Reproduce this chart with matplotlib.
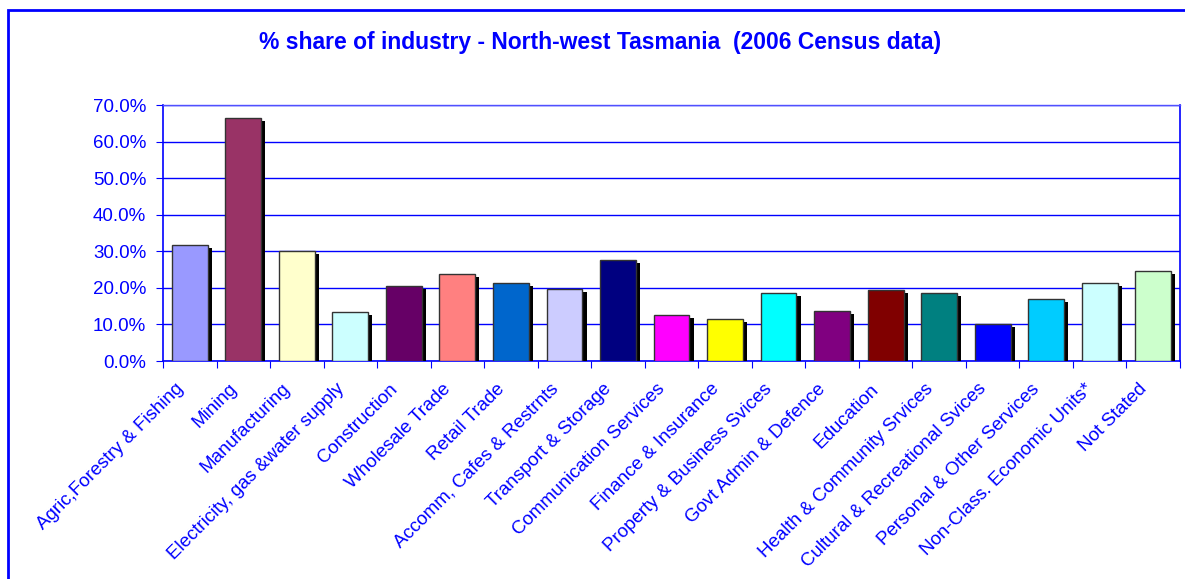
import matplotlib
matplotlib.use("Agg")
import matplotlib.pyplot as plt
import matplotlib.patheffects as pe
import matplotlib.transforms as mtransforms
from matplotlib.patches import Rectangle
from matplotlib.ticker import FuncFormatter, MultipleLocator

industries = [
    "Agric,Forestry & Fishing", "Mining", "Manufacturing",
    "Electricity, gas &water supply", "Construction", "Wholesale Trade",
    "Retail Trade", "Accomm, Cafes & Restrnts", "Transport & Storage",
    "Communication Services", "Finance & Insurance",
    "Property & Business Svices", "Govt Admin & Defence", "Education",
    "Health & Community Srvices", "Cultural & Recreational Svices",
    "Personal & Other Services", "Non-Class. Economic Units*", "Not Stated",
]
share_pct = [31.6, 66.4, 30.0, 13.5, 20.4, 23.7, 21.3, 19.7, 27.6, 12.6,
             11.4, 18.6, 13.8, 19.3, 18.6, 10.2, 16.9, 21.3, 24.5]
bar_colors = ["#9999FF", "#993366", "#FFFFCC", "#CCFFFF", "#660066",
              "#FF8080", "#0066CC", "#CCCCFF", "#000080", "#FF00FF",
              "#FFFF00", "#00FFFF", "#800080", "#800000", "#008080",
              "#0000FF", "#00CCFF", "#CCFFFF", "#CCFFCC"]

BLUE = "#0000FF"
W, H = 1185, 579
plt.rcParams["font.family"] = ["Liberation Sans", "DejaVu Sans"]

fig = plt.figure(figsize=(W / 100, H / 100), dpi=100)
ax = fig.add_axes([163 / W, 1 - 361 / H, (1180 - 163) / W, (361 - 105) / H])

# outer chart frame (right and bottom edges run off the image)
fig.patches.append(Rectangle((8 / W, -0.05), 1.1, 1.05 - 10 / H,
                             transform=fig.transFigure, fill=False,
                             edgecolor=BLUE, linewidth=2))

x = range(len(industries))
ax.bar(x, share_pct, width=0.67, color=bar_colors, edgecolor="#333333",
       linewidth=1.0, zorder=3,
       path_effects=[pe.SimplePatchShadow(offset=(3, -2.2), shadow_rgbFace="black",
                                          alpha=1.0), pe.Normal()])

ax.set_xlim(-0.5, len(industries) - 0.5)
ax.set_ylim(0, 70)
ax.yaxis.set_major_locator(MultipleLocator(10))
ax.yaxis.set_major_formatter(FuncFormatter(lambda v, _: f"{v:.1f}%"))
ax.grid(axis="y", color=BLUE, linewidth=1.0, zorder=0)

# ticks sit between categories, labels sit under the bars
ax.set_xticks([i + 0.5 for i in range(-1, len(industries))])
ax.set_xticklabels([])
ax.tick_params(axis="x", which="major", length=5, color=BLUE)
ax.set_xticks(list(x), minor=True)
ax.set_xticklabels(industries, minor=True, rotation=45, ha="right",
                   va="top", rotation_mode="anchor", fontsize=13.5, color=BLUE)
ax.tick_params(axis="x", which="minor", length=0, pad=14)
shift = mtransforms.ScaledTranslation(-15 / 100, 0, fig.dpi_scale_trans)
for lbl in ax.get_xticklabels(minor=True):
    lbl.set_transform(lbl.get_transform() + shift)
ax.tick_params(axis="y", length=5, color=BLUE, labelcolor=BLUE, labelsize=13.5,
               pad=7)

for side in ["left", "bottom", "right"]:
    ax.spines[side].set_color(BLUE)
    ax.spines[side].set_linewidth(1.2)
ax.spines["top"].set_color("#5050FF")
ax.spines["top"].set_linewidth(1.0)

fig.text(600 / W, 1 - 43 / H,
         "% share of industry - North-west Tasmania  (2006 Census data)",
         ha="center", va="center", fontsize=16.5, fontweight="bold", color=BLUE)

fig.savefig("out.png", dpi=100)
